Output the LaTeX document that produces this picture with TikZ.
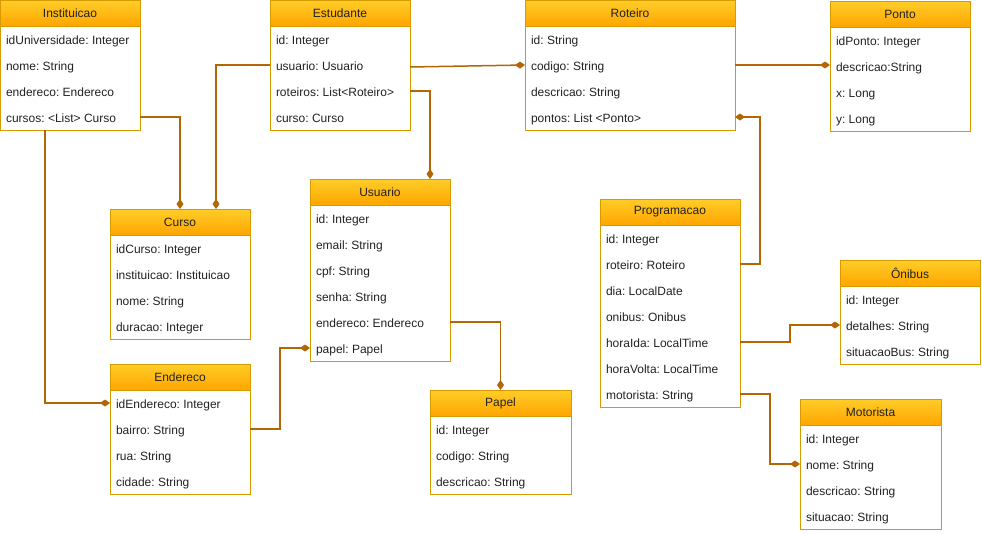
\documentclass[tikz,border=0pt]{standalone}
\usepackage{fontspec}
\setmainfont{Liberation Sans}
\usepackage{tikz}
\usetikzlibrary{arrows.meta,positioning}
\usepackage{xcolor}
\definecolor{hdrtop}{HTML}{FFCD28}
\definecolor{hdrbot}{HTML}{FFA500}
\definecolor{boxline}{HTML}{D79B00}
\definecolor{linkbrown}{HTML}{B46504}
\definecolor{txtgray}{HTML}{222222}

\begin{document}
\frenchspacing
\begin{tikzpicture}[x=1pt,y=-1pt,
    hdr/.style={anchor=north west,draw=boxline,top color=hdrtop,bottom color=hdrbot,outer sep=0pt,
      minimum width=#1,minimum height=26pt,inner xsep=0pt,font=\fontsize{12}{14}\selectfont,text=txtgray},
    row/.style={minimum height=26pt,text width=#1,inner xsep=6pt,inner ysep=0pt,outer sep=0pt,align=flush left,
      text height=11pt,text depth=1pt,font=\fontsize{12}{14}\selectfont,text=txtgray},
    link/.style={draw=linkbrown,line width=1.5pt,-{Diamond[length=10pt,width=7pt]}}]
        \useasboundingbox (0,0) rectangle (982,533);
        % Instituicao
        \node[hdr=140pt] (inst) at (0,0) {Instituicao};
        \node[row=128pt,below=0pt of inst] (inst1) {idUniversidade: Integer};
        \node[row=128pt,below=0pt of inst1] (inst2) {nome: String};
        \node[row=128pt,below=0pt of inst2] (inst3) {endereco: Endereco};
        \node[row=128pt,below=0pt of inst3] (inst4) {cursos: <List> Curso};
        \draw[boxline] (inst1.north west) rectangle (inst4.south east);
        % Estudante
        \node[hdr=140pt] (est) at (270,0) {Estudante};
        \node[row=128pt,below=0pt of est] (est1) {id: Integer};
        \node[row=128pt,below=0pt of est1] (est2) {usuario: Usuario};
        \node[row=128pt,below=0pt of est2] (est3) {roteiros: List<Roteiro>};
        \node[row=128pt,below=0pt of est3] (est4) {curso: Curso};
        \draw[boxline] (est1.north west) rectangle (est4.south east);
        % Roteiro
        \node[hdr=210pt] (rot) at (525,0) {Roteiro};
        \node[row=198pt,below=0pt of rot] (rot1) {id: String};
        \node[row=198pt,below=0pt of rot1] (rot2) {codigo: String};
        \node[row=198pt,below=0pt of rot2] (rot3) {descricao: String};
        \node[row=198pt,below=0pt of rot3] (rot4) {pontos: List <Ponto>};
        \draw[boxline] (rot1.north west) rectangle (rot4.south east);
        % Ponto
        \node[hdr=140pt] (pon) at (830,1) {Ponto};
        \node[row=128pt,below=0pt of pon] (pon1) {idPonto: Integer};
        \node[row=128pt,below=0pt of pon1] (pon2) {descricao:String};
        \node[row=128pt,below=0pt of pon2] (pon3) {x: Long};
        \node[row=128pt,below=0pt of pon3] (pon4) {y: Long};
        \draw[boxline] (pon1.north west) rectangle (pon4.south east);
        % Curso
        \node[hdr=140pt] (curso) at (110,209) {Curso};
        \node[row=128pt,below=0pt of curso] (curso1) {idCurso: Integer};
        \node[row=128pt,below=0pt of curso1] (curso2) {instituicao: Instituicao};
        \node[row=128pt,below=0pt of curso2] (curso3) {nome: String};
        \node[row=128pt,below=0pt of curso3] (curso4) {duracao: Integer};
        \draw[boxline] (curso1.north west) rectangle (curso4.south east);
        % Usuario
        \node[hdr=140pt] (usu) at (310,179) {Usuario};
        \node[row=128pt,below=0pt of usu] (usu1) {id: Integer};
        \node[row=128pt,below=0pt of usu1] (usu2) {email: String};
        \node[row=128pt,below=0pt of usu2] (usu3) {cpf: String};
        \node[row=128pt,below=0pt of usu3] (usu4) {senha: String};
        \node[row=128pt,below=0pt of usu4] (usu5) {endereco: Endereco};
        \node[row=128pt,below=0pt of usu5] (usu6) {papel: Papel};
        \draw[boxline] (usu1.north west) rectangle (usu6.south east);
        % Endereco
        \node[hdr=140pt] (endr) at (110,364) {Endereco};
        \node[row=128pt,below=0pt of endr] (endr1) {idEndereco: Integer};
        \node[row=128pt,below=0pt of endr1] (endr2) {bairro: String};
        \node[row=128pt,below=0pt of endr2] (endr3) {rua: String};
        \node[row=128pt,below=0pt of endr3] (endr4) {cidade: String};
        \draw[boxline] (endr1.north west) rectangle (endr4.south east);
        % Papel
        \node[hdr=141pt] (pap) at (430,390) {Papel};
        \node[row=129pt,below=0pt of pap] (pap1) {id: Integer};
        \node[row=129pt,below=0pt of pap1] (pap2) {codigo: String};
        \node[row=129pt,below=0pt of pap2] (pap3) {descricao: String};
        \draw[boxline] (pap1.north west) rectangle (pap3.south east);
        % Programacao
        \node[hdr=140pt] (prog) at (600,199) {Programacao};
        \node[row=128pt,below=0pt of prog] (prog1) {id: Integer};
        \node[row=128pt,below=0pt of prog1] (prog2) {roteiro: Roteiro};
        \node[row=128pt,below=0pt of prog2] (prog3) {dia: LocalDate};
        \node[row=128pt,below=0pt of prog3] (prog4) {onibus: Onibus};
        \node[row=128pt,below=0pt of prog4] (prog5) {horaIda: LocalTime};
        \node[row=128pt,below=0pt of prog5] (prog6) {horaVolta: LocalTime};
        \node[row=128pt,below=0pt of prog6] (prog7) {motorista: String};
        \draw[boxline] (prog1.north west) rectangle (prog7.south east);
        % Onibus
        \node[hdr=140pt] (oni) at (840,260) {Ônibus};
        \node[row=128pt,below=0pt of oni] (oni1) {id: Integer};
        \node[row=128pt,below=0pt of oni1] (oni2) {detalhes: String};
        \node[row=128pt,below=0pt of oni2] (oni3) {situacaoBus: String};
        \draw[boxline] (oni1.north west) rectangle (oni3.south east);
        % Motorista
        \node[hdr=141pt] (mot) at (800,399) {Motorista};
        \node[row=129pt,below=0pt of mot] (mot1) {id: Integer};
        \node[row=129pt,below=0pt of mot1] (mot2) {nome: String};
        \node[row=129pt,below=0pt of mot2] (mot3) {descricao: String};
        \node[row=129pt,below=0pt of mot3] (mot4) {situacao: String};
        \draw[boxline] (mot1.north west) rectangle (mot4.south east);
        % links
        \draw[link] (inst4.east) -| (curso.north);
        \draw[link] (est2.west) -| ([xshift=36pt]curso.north);
        \draw[link] ([xshift=45pt]inst4.south west) |- (endr1.west);
        \draw[link] ([yshift=-2pt]est2.east) -- (rot2.west);
        \draw[link] (est3.east) -| ([xshift=50pt]usu.north);
        \draw[link] (rot2.east) -- (rot2.east -| pon2.west);
        \draw[link] (prog2.east) -- ++(20,0) |- (rot4.east);
        \draw[link] (prog5.east) -- ++(50,0) |- (oni2.west);
        \draw[link] (prog7.east) -- ++(30,0) |- (mot2.west);
        \draw[link] (endr2.east) -- ++(30,0) |- (usu6.west);
        \draw[link] (usu5.east) -| (pap.north);
      \end{tikzpicture}
\end{document}
